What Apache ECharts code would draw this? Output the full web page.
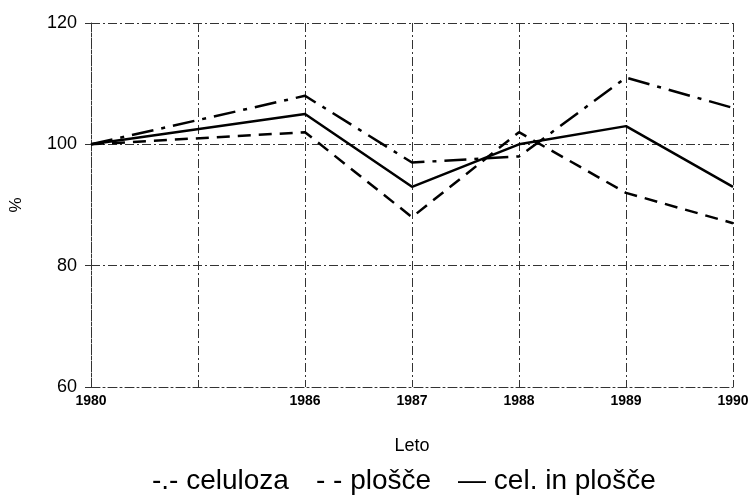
<!DOCTYPE html>
<html>
<head>
<meta charset="utf-8">
<script src="https://cdn.jsdelivr.net/npm/echarts@6/dist/echarts.min.js"></script>
<style>
html,body{margin:0;padding:0;background:#fff;}
#c{width:754px;height:498px;}
</style>
</head>
<body>
<div id="c"></div>
<script>
var categories = ['1980', '', '1986', '1987', '1988', '1989', '1990'];
var celuloza = [100, null, 108, 97, 98, 111, 106];
var plosce = [100, null, 102, 88, 102, 92, 87];
var celInPlosce = [100, null, 105, 93, 100, 103, 93];
var seriesNames = ['celuloza', 'plošče', 'cel. in plošče'];
var legendMarks = ['-.-', '- -', '—'];
var yTicks = [60, 80, 100, 120];

var font = '"Liberation Sans", Arial, sans-serif';
var gridLine = { color: '#333', width: 1, type: [9, 3, 2, 3] };

var chart = echarts.init(document.getElementById('c'), null, { renderer: 'canvas' });
chart.setOption({
  backgroundColor: '#fff',
  animation: false,
  grid: { left: 87, right: 21, top: 23, bottom: 111 },
  legend: {
    data: seriesNames,
    left: 142,
    top: 462,
    icon: 'none',
    itemWidth: 0,
    itemHeight: 0,
    itemGap: 22,
    textStyle: { fontSize: 28, color: '#000', fontFamily: font },
    formatter: function (name) {
      return legendMarks[seriesNames.indexOf(name)] + ' ' + name;
    }
  },
  xAxis: {
    type: 'category',
    data: categories,
    boundaryGap: false,
    name: 'Leto',
    nameLocation: 'middle',
    nameGap: 50,
    nameTextStyle: { fontSize: 18, color: '#000', fontFamily: font },
    axisLine: { show: true, lineStyle: gridLine },
    axisTick: { show: false },
    axisLabel: { fontSize: 14, fontWeight: 'bold', color: '#000', margin: 7, fontFamily: font, interval: 0 },
    splitLine: { show: true, interval: 0, lineStyle: gridLine }
  },
  yAxis: {
    type: 'value',
    min: yTicks[0],
    max: yTicks[yTicks.length - 1],
    interval: 20,
    name: '%',
    nameLocation: 'middle',
    nameGap: 66,
    nameRotate: 90,
    nameTextStyle: { fontSize: 17, color: '#000', fontFamily: font },
    axisLine: { show: true, lineStyle: gridLine },
    axisTick: { show: true, length: 6, lineStyle: { color: '#333', width: 1 } },
    axisLabel: { fontSize: 18, color: '#000', margin: 14, fontFamily: font },
    splitLine: { show: true, lineStyle: gridLine }
  },
  series: [
    {
      name: seriesNames[0], type: 'line', data: celuloza, connectNulls: true,
      symbol: 'none', lineStyle: { color: '#000', width: 2.5, type: [22, 8, 4, 8] },
      itemStyle: { color: '#000' }
    },
    {
      name: seriesNames[1], type: 'line', data: plosce, connectNulls: true,
      symbol: 'none', lineStyle: { color: '#000', width: 2.5, type: [13, 8] },
      itemStyle: { color: '#000' }
    },
    {
      name: seriesNames[2], type: 'line', data: celInPlosce, connectNulls: true,
      symbol: 'none', lineStyle: { color: '#000', width: 2.5, type: 'solid' },
      itemStyle: { color: '#000' }
    }
  ]
});
</script>
</body>
</html>
